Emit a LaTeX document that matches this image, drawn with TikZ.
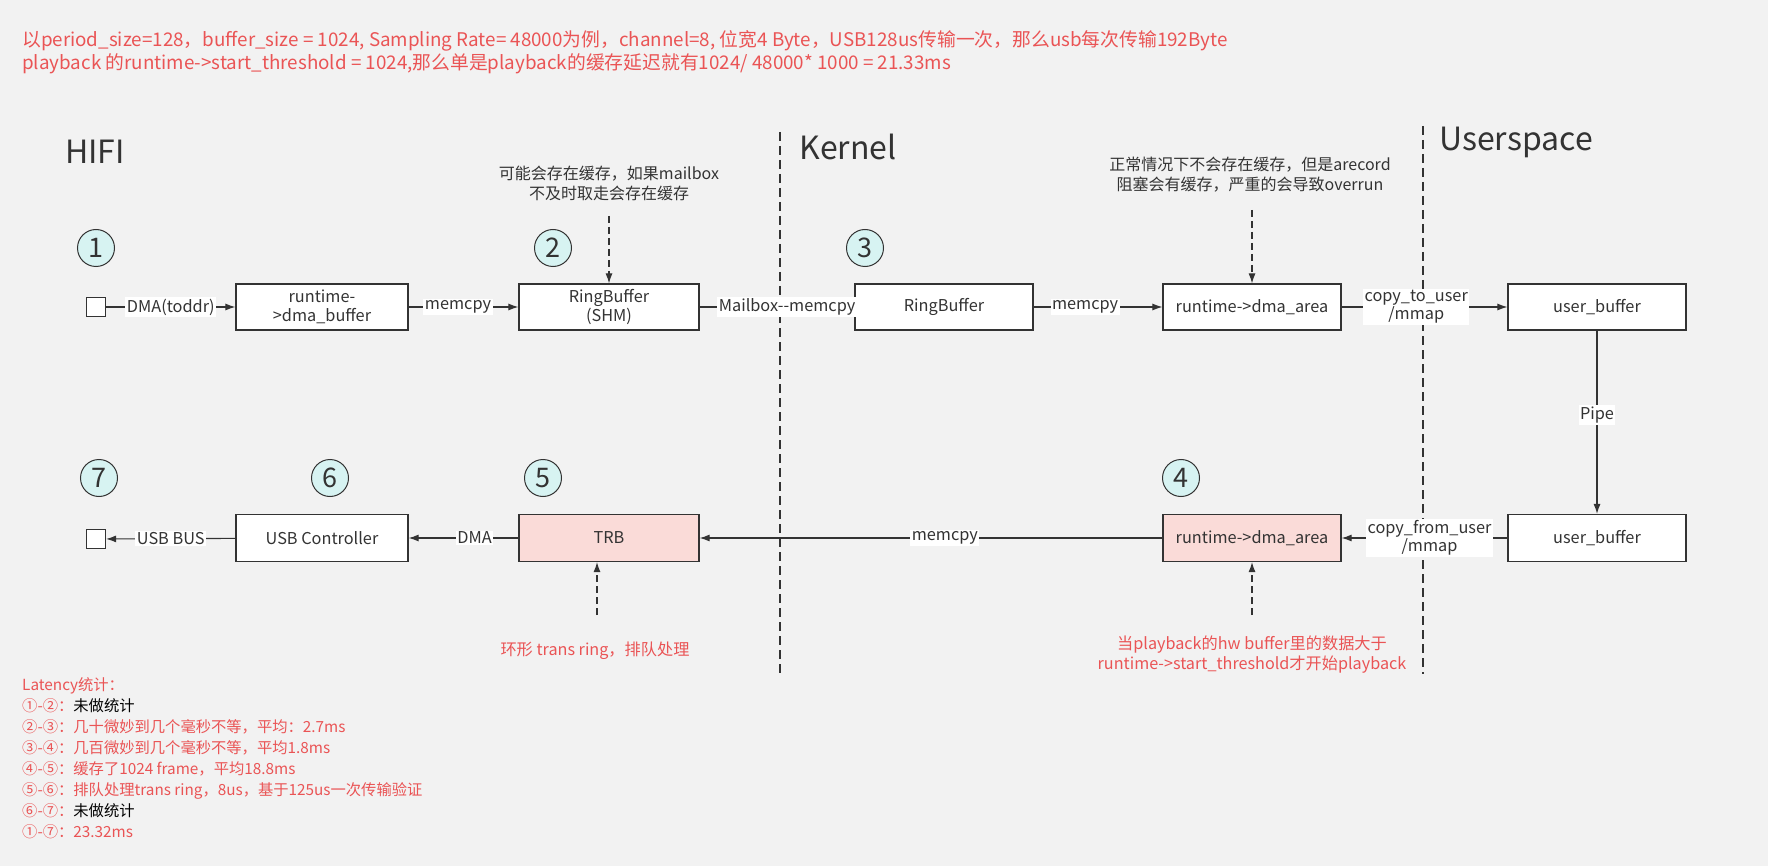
\documentclass[tikz,border=0pt]{standalone}
\usepackage{fontspec}
\setmainfont{Noto Sans CJK SC}
\usetikzlibrary{arrows.meta}
\definecolor{bg}{RGB}{242,242,242}
\definecolor{ink}{RGB}{51,51,51}
\definecolor{redt}{RGB}{234,84,85}
\definecolor{cyanf}{RGB}{215,243,242}
\definecolor{pinkf}{RGB}{250,219,216}
\tikzset{
  box/.style={draw=ink, line width=1.2pt, fill=white, minimum width=178pt, minimum height=46pt, text=ink, font=\fontsize{16.3}{19}\selectfont, align=center, inner sep=0pt},
  sq/.style={draw=ink, line width=1.2pt, fill=white, minimum size=19pt, inner sep=0pt},
  num/.style={circle, draw=ink, line width=1pt, fill=cyanf, minimum size=37pt, inner sep=0pt, text=ink, font=\fontsize{27}{27}\selectfont},
  conn/.style={draw=ink, line width=1.1pt, -{Latex[length=10pt,width=7pt]}},
  dconn/.style={draw=ink, line width=1.1pt, dash pattern=on 7pt off 4pt, -{Latex[length=10pt,width=7pt]}},
  elab/.style={fill=white, text=ink, font=\fontsize{16.3}{18}\selectfont, inner sep=1.5pt, align=center},
  note/.style={text=ink, font=\fontsize{16}{20}\selectfont, align=center},
  rnote/.style={text=redt, font=\fontsize{16.2}{20}\selectfont, align=center},
  region/.style={text=ink, font=\fontsize{32}{32}\selectfont},
  sep/.style={draw=ink, line width=1.1pt, dash pattern=on 9pt off 5pt}
}
\begin{document}
\begin{tikzpicture}[x=1pt,y=-1pt]
\fill[bg] (0,0) rectangle (1768,866);
\useasboundingbox (0,0) rectangle (1768,866);

% title
\node[anchor=north west, text=redt, font=\fontsize{18.8}{23.5}\selectfont, align=left, inner sep=0pt] (title) at (22,30)
 {以period\_size=128，buffer\_size = 1024, Sampling Rate= 48000为例，channel=8, 位宽4 Byte，USB128us传输一次，那么usb每次传输192Byte\\
 playback 的runtime->start\_threshold = 1024,那么单是playback的缓存延迟就有1024/ 48000* 1000 = 21.33ms};

% separators
\coordinate (s1a) at (780,132); \coordinate (s1b) at (780,674);
\coordinate (s2a) at (1423,126); \coordinate (s2b) at (1423,674);
\draw[sep] (s1a) -- (s1b);
\draw[sep] (s2a) -- (s2b);

% regions
\node[region] (hifi) at (95,152) {HIFI};
\node[region] (kernel) at (848,147) {Kernel};
\node[region] (user) at (1516,142) {Userspace};

% top row
\node[sq] (sq1) at (96,307) {};
\node[box, minimum width=172pt] (dmab) at (322,307) {runtime-\\>dma\_buffer};
\node[box, minimum width=180pt] (shm) at (609,307) {RingBuffer\\(SHM)};
\node[box] (rb) at (944,307) {RingBuffer};
\node[box] (area1) at (1252,307) {runtime->dma\_area};
\node[box] (ub1) at (1597,307) {user\_buffer};

% bottom row
\node[sq] (sq2) at (96,539) {};
\node[box, minimum width=172pt, minimum height=47pt] (usbc) at (322,538) {USB Controller};
\node[box, minimum width=180pt, minimum height=47pt, fill=pinkf] (trb) at (609,538) {TRB};
\node[box, minimum height=47pt, fill=pinkf] (area2) at (1252,538) {runtime->dma\_area};
\node[box, minimum height=47pt] (ub2) at (1597,538) {user\_buffer};

% numbers
\node[num] (n1) at (96,248) {1};
\node[num] (n2) at (553,248) {2};
\node[num] (n3) at (865,248) {3};
\node[num] (n4) at (1181,478) {4};
\node[num] (n5) at (543,478) {5};
\node[num] (n6) at (330,478) {6};
\node[num] (n7) at (99,478) {7};

% connectors top
\draw[conn] (sq1) -- node[elab] {DMA(toddr)} (dmab);
\draw[conn] (dmab) -- node[elab, pos=0.45] {memcpy} (shm);
\draw[conn] (shm) -- node[elab, pos=0.565] {Mailbox-{}-memcpy} (rb);
\draw[conn] (rb) -- node[elab, pos=0.4] {memcpy} (area1);
\draw[conn] (area1) -- node[elab, pos=0.45] {copy\_to\_user\\/mmap} (ub1);
\draw[conn] (ub1) -- node[elab, pos=0.46] {Pipe} (ub2);
% connectors bottom
\draw[conn] (ub2) -- node[elab, pos=0.47] {copy\_from\_user\\/mmap} (area2);
\draw[conn] (area2) -- node[elab, pos=0.47] {memcpy} (trb);
\draw[conn] (trb) -- node[elab, pos=0.4] {DMA} (usbc);
\draw[conn] (usbc) -- node[elab, pos=0.5] {USB BUS} (sq2);

% annotations
\node[note] (a1) at (609,183) {可能会存在缓存，如果mailbox\\不及时取走会存在缓存};
\coordinate (a1s) at (609,216);
\draw[dconn] (a1s) -- (shm.north);
\node[note] (a2) at (1250,175) {正常情况下不会存在缓存，但是arecord\\阻塞会有缓存，严重的会导致overrun};
\coordinate (a2s) at (1252,210);
\draw[dconn] (a2s) -- (area1.north);
\coordinate (a5s) at (597,615);
\draw[dconn] (a5s) -- (a5s |- trb.south);
\node[rnote] (a5) at (595,651) {环形 trans ring，排队处理};
\coordinate (a4s) at (1252,615);
\draw[dconn] (a4s) -- (area2.south);
\node[rnote] (a4) at (1252,655) {当playback的hw buffer里的数据大于\\runtime->start\_threshold才开始playback};

% latency
\node[anchor=north west, text=redt, font=\fontsize{15.3}{21}\selectfont, align=left, inner sep=0pt] (lat) at (22,677)
 {Latency统计：\\
 ①-②：\textcolor{black}{未做统计}\\
 ②-③：几十微妙到几个毫秒不等，平均：2.7ms\\
 ③-④：几百微妙到几个毫秒不等，平均1.8ms\\
 ④-⑤：缓存了1024 frame，平均18.8ms\\
 ⑤-⑥：排队处理trans ring，8us，基于125us一次传输验证\\
 ⑥-⑦：\textcolor{black}{未做统计}\\
 ①-⑦：23.32ms};
\end{tikzpicture}
\end{document}
